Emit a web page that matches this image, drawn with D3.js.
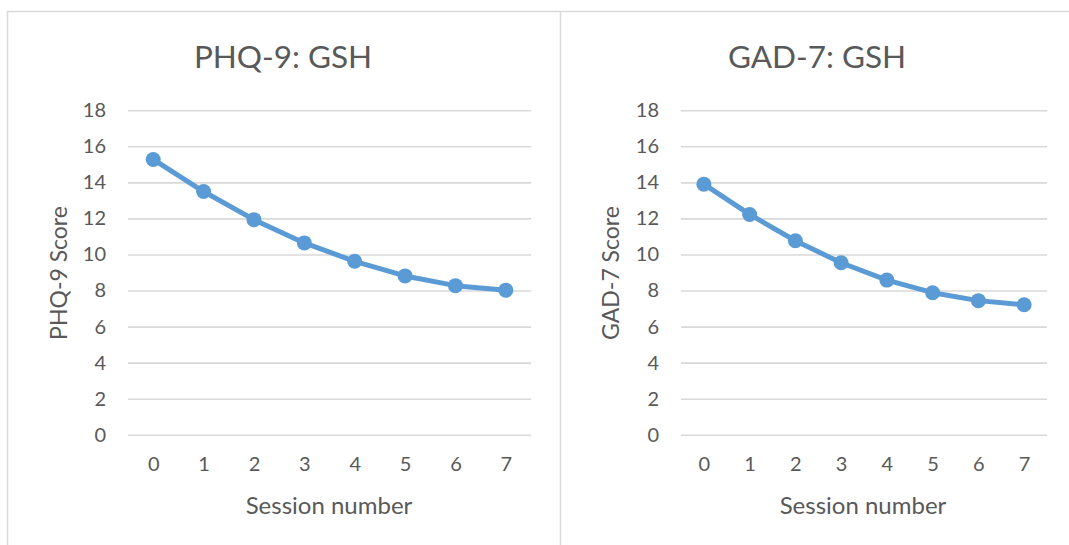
<!DOCTYPE html>
<html>
<head>
<meta charset="utf-8">
<script src="https://cdn.jsdelivr.net/npm/d3@7"></script>
<style>
  html, body { margin: 0; padding: 0; background: #fff; }
  svg { display: block; }
  text { font-family: Lato, "Open Sans", sans-serif; fill: #595959; }
</style>
</head>
<body>
<svg id="chart" width="1069" height="545"></svg>
<script>
// Sessions and mean scores per measure
const sessions = [0, 1, 2, 3, 4, 5, 6, 7];
const phq9Scores = [15.27, 13.49, 11.93, 10.64, 9.62, 8.81, 8.27, 8.02];
const gad7Scores = [13.90, 12.22, 10.76, 9.54, 8.58, 7.88, 7.44, 7.21];
const yTicks = [0, 2, 4, 6, 8, 10, 12, 14, 16, 18];
const titles = ["PHQ-9: GSH", "GAD-7: GSH"];
const yLabels = ["PHQ-9 Score", "GAD-7 Score"];
const xLabel = "Session number";

const svg = d3.select("#chart");
const lineColor = "#5b9bd5";
const gridColor = "#d9d9d9";

// Frame around the two chart panels
svg.append("path")
  .attr("d", "M7.5,545 V11.5 H1069")
  .attr("fill", "none").attr("stroke", gridColor).attr("stroke-width", 1.5);
svg.append("line")
  .attr("x1", 560.5).attr("x2", 560.5).attr("y1", 11.5).attr("y2", 545)
  .attr("stroke", gridColor).attr("stroke-width", 1.5);

const panels = [
  { values: phq9Scores, title: titles[0], yLabel: yLabels[0],
    plotL: 128, plotR: 531, yLabelX: 58.5, titleX: 283, xLabelX: 329 },
  { values: gad7Scores, title: titles[1], yLabel: yLabels[1],
    plotL: 681, plotR: 1047, yLabelX: 611, titleX: 817, xLabelX: 863 }
];

panels.forEach(p => {
  const g = svg.append("g");
  const x = d3.scalePoint().domain(sessions).range([p.plotL, p.plotR]).padding(0.5);
  const y = d3.scaleLinear().domain([0, 18]).range([434.8, 110.2]);

  // Horizontal gridlines
  const yAxis = d3.axisLeft(y).tickValues(yTicks).tickSize(-(p.plotR - p.plotL)).tickPadding(22);
  const ya = g.append("g").attr("transform", `translate(${p.plotL},0)`).call(yAxis);
  ya.select(".domain").remove();
  ya.selectAll(".tick line").attr("stroke", gridColor).attr("stroke-width", 1.6);
  ya.selectAll(".tick text").attr("font-size", 20).style("fill", "#595959")
    .attr("font-family", "Lato, 'Open Sans', sans-serif");

  // Category axis below the zero line
  const xAxis = d3.axisBottom(x).tickSize(0).tickPadding(22);
  const xa = g.append("g").attr("transform", `translate(0,${y(0)})`).call(xAxis);
  xa.select(".domain").remove();
  xa.selectAll(".tick text").attr("font-size", 20).style("fill", "#595959")
    .attr("font-family", "Lato, 'Open Sans', sans-serif");

  // Series line and markers
  const line = d3.line().x((d, i) => x(sessions[i])).y(d => y(d));
  g.append("path").datum(p.values)
    .attr("d", line).attr("fill", "none")
    .attr("stroke", lineColor).attr("stroke-width", 5).attr("stroke-linejoin", "round");
  g.selectAll("circle").data(p.values).join("circle")
    .attr("cx", (d, i) => x(sessions[i])).attr("cy", d => y(d))
    .attr("r", 7.5).attr("fill", lineColor);

  // Titles
  g.append("text").attr("x", p.titleX).attr("y", 68)
    .attr("text-anchor", "middle").attr("font-size", 31.5).text(p.title);
  g.append("text").attr("x", p.xLabelX).attr("y", 514)
    .attr("text-anchor", "middle").attr("font-size", 24).text(xLabel);
  g.append("text")
    .attr("transform", `translate(${p.yLabelX + 8},273) rotate(-90)`)
    .attr("text-anchor", "middle").attr("font-size", 23).text(p.yLabel);
});
</script>
</body>
</html>
